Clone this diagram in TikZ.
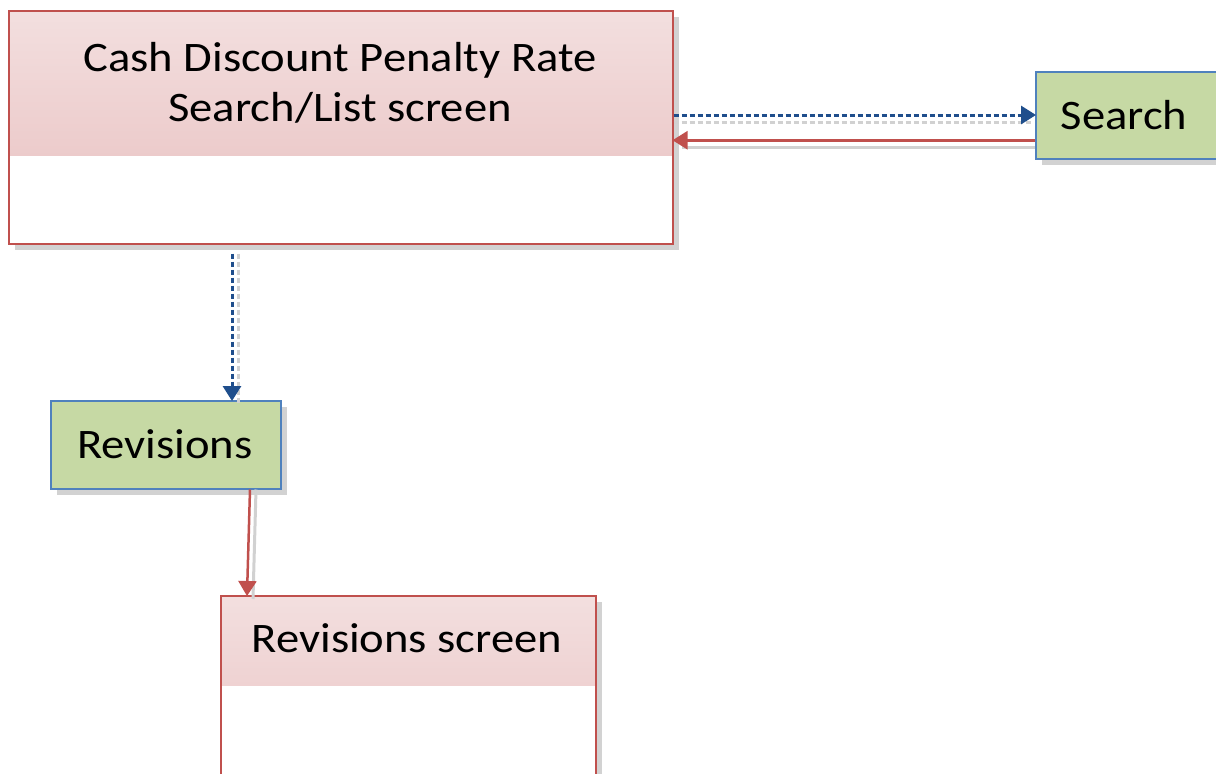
\documentclass[tikz,border=0pt]{standalone}
\usepackage{fontspec}
\setmainfont{Carlito}
\usetikzlibrary{arrows.meta,shadows}
\definecolor{boxred}{HTML}{C0504D}
\definecolor{boxblue}{HTML}{4F81BD}
\definecolor{boxgreen}{HTML}{C6D9A4}
\definecolor{hdtop}{HTML}{F3DFDF}
\definecolor{hdbot}{HTML}{E8BFBF}
\definecolor{arrblue}{HTML}{1F4E8C}
\definecolor{arrred}{HTML}{C0504D}
\newcommand\widetext[1]{\scalebox{1.11}[1]{#1}}
\tikzset{
  screenbox/.style={draw=boxred, line width=1.5pt, fill=white, anchor=north west,
    drop shadow={shadow xshift=6pt, shadow yshift=-6pt, fill=black!35},
    path picture={\shade[top color=hdtop, bottom color=hdbot]
      (path picture bounding box.north west) rectangle
      ([yshift=-#1]path picture bounding box.north east);}},
  actionbox/.style={draw=boxblue, line width=1.5pt, fill=boxgreen, anchor=north west,
    drop shadow={shadow xshift=6pt, shadow yshift=-6pt, fill=black!35}},
  boxtext/.style={font=\fontsize{42}{50}\selectfont, align=center, inner sep=0pt},
  navarrow/.style={draw=arrblue, line width=3pt, dash pattern=on 5pt off 3pt,
    -{Triangle[width=18pt,length=15pt,sep=-1pt]}},
  backarrow/.style={draw=arrred, line width=2.5pt,
    -{Triangle[width=18pt,length=15pt,sep=-1pt]}},
  arrshadow/.style={draw=black!18, line width=3pt}
}
\begin{document}
\begin{tikzpicture}[x=1pt,y=-1pt]
\useasboundingbox (0,0) rectangle (1216,774);
\clip (0,0) rectangle (1216,774);
% main screen
\node[screenbox=145pt, minimum width=664pt, minimum height=233pt] (main) at (8,10) {};
\node[boxtext] (maintxt) at (340,83) {\widetext{Cash Discount Penalty Rate}\\\widetext{Search/List screen}};
% search
\node[actionbox, minimum width=185pt, minimum height=87pt] (search) at (1035,71) {};
\node[boxtext] (searchtxt) at (1124,115) {\widetext{Search}};
% revisions
\node[actionbox, minimum width=230pt, minimum height=88pt] (rev) at (50,400) {};
\node[boxtext] (revtxt) at (165,444) {\widetext{Revisions}};
% revisions screen
\node[screenbox=90pt, minimum width=375pt, minimum height=220pt] (rs) at (220,595) {};
\node[boxtext] (rstxt) at (407,638) {\widetext{Revisions screen}};
% connectors
\coordinate (a1) at ([yshift=-105pt]main.north east);
\coordinate (a2) at (a1 -| search.west);
\coordinate (b1) at ([yshift=-25pt]search.west);
\coordinate (b2) at (b1 -| main.east);
\coordinate (c1) at ([xshift=224pt,yshift=-9pt]main.south west);
\coordinate (c2) at (c1 |- rev.north);
\coordinate (d1) at ([xshift=200pt]rev.south west);
\coordinate (d2) at ([xshift=27pt]rs.north west);
% arrow shadows
\draw[arrshadow, dash pattern=on 5pt off 3pt] ([yshift=-7pt]a1) -- ([yshift=-7pt,xshift=-4pt]a2);
\draw[arrshadow] ([yshift=-7pt]b1) -- ([yshift=-7pt,xshift=8pt]b2);
\draw[arrshadow, dash pattern=on 5pt off 3pt] ([xshift=6pt]c1) -- ([xshift=6pt,yshift=-4pt]c2);
\draw[arrshadow] ([xshift=6pt]d1) -- ([xshift=6pt,yshift=-4pt]d2);
% arrows
\draw[navarrow] (a1) -- (a2);
\draw[backarrow] (b1) -- (b2);
\draw[navarrow] (c1) -- (c2);
\draw[backarrow] (d1) -- (d2);
\end{tikzpicture}
\end{document}
